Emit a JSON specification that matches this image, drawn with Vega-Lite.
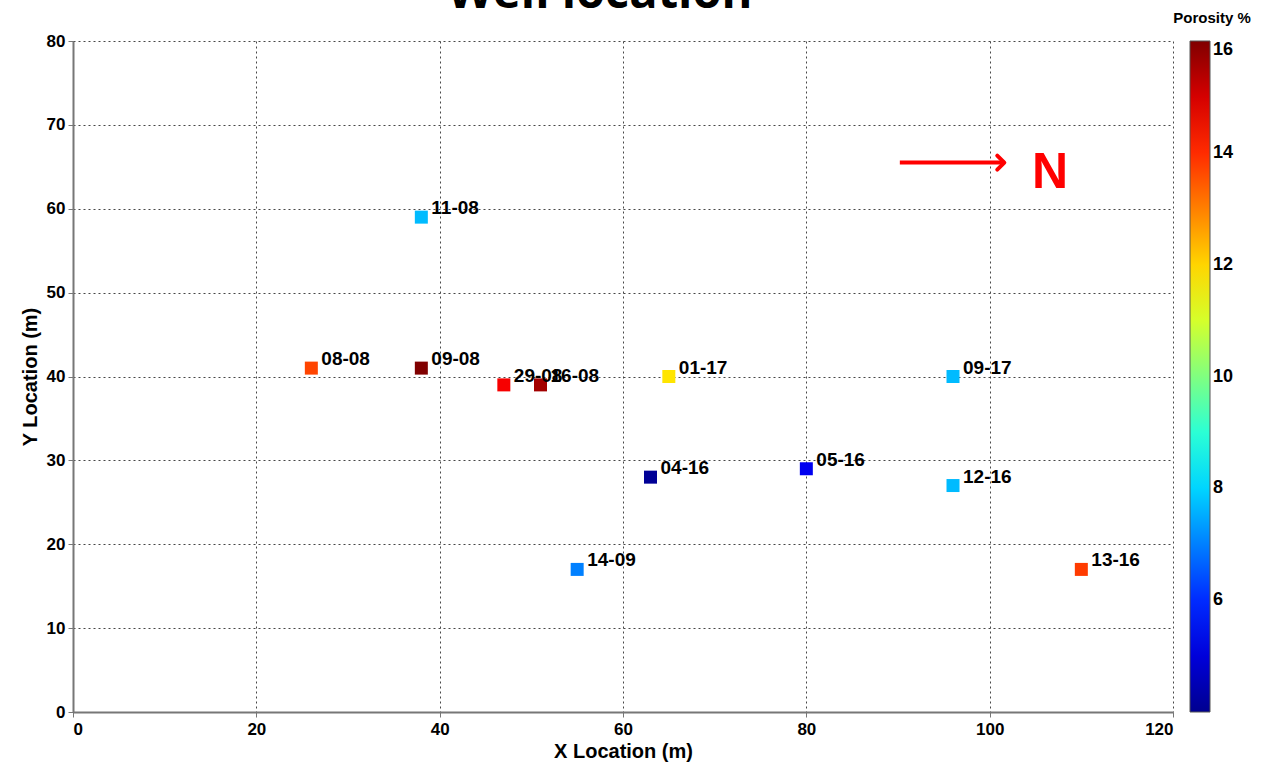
{
  "$schema": "https://vega.github.io/schema/vega-lite/v6.json",
  "autosize": {"type": "none"},
  "width": 1100,
  "height": 671,
  "padding": {"left": 73, "top": 41, "right": 100, "bottom": 52},
  "background": "white",
  "title": {"text": "Well location", "fontSize": 47, "font": "Open Sans", "fontWeight": "bold", "color": "black", "anchor": "middle", "frame": "group", "baseline": "alphabetic", "offset": -44, "dx": -23},
  "config": {
    "font": "Liberation Sans",
    "view": {"stroke": null},
    "axis": {
      "labelFont": "Liberation Sans", "labelFontWeight": "bold", "labelFontSize": 17, "labelColor": "black",
      "titleFont": "Liberation Sans", "titleFontWeight": "bold", "titleFontSize": 20, "titleColor": "black",
      "grid": true, "gridColor": "#333", "gridDash": [2, 3], "gridOpacity": 0.9, "gridWidth": 1,
      "domainColor": "#777", "domainWidth": 2, "tickColor": "#777", "tickSize": 5
    }
  },
  "datasets": {
    "wells": [
      {"well": "08-08", "x": 26, "y": 41, "porosity": 13.7},
      {"well": "09-08", "x": 38, "y": 41, "porosity": 16},
      {"well": "29-08", "x": 47, "y": 39, "porosity": 14.6},
      {"well": "16-08", "x": 51, "y": 39, "porosity": 15.6},
      {"well": "11-08", "x": 38, "y": 59, "porosity": 7.7},
      {"well": "01-17", "x": 65, "y": 40, "porosity": 11.8},
      {"well": "09-17", "x": 96, "y": 40, "porosity": 7.7},
      {"well": "04-16", "x": 63, "y": 28, "porosity": 4.1},
      {"well": "05-16", "x": 80, "y": 29, "porosity": 5.3},
      {"well": "12-16", "x": 96, "y": 27, "porosity": 7.7},
      {"well": "14-09", "x": 55, "y": 17, "porosity": 7.0},
      {"well": "13-16", "x": 110, "y": 17, "porosity": 13.8}
    ],
    "arrow": [{"x": 90.2, "x2": 101.6, "y": 65.5, "label": "N", "lx": 106.6}]
  },
  "layer": [
    {
      "data": {"name": "wells"},
      "mark": {"type": "square", "size": 169, "opacity": 1, "filled": true},
      "encoding": {
        "x": {"field": "x", "type": "quantitative", "scale": {"domain": [0, 120], "nice": false}, "axis": {"values": [0, 20, 40, 60, 80, 100, 120], "title": "X Location (m)", "titlePadding": 4, "labelPadding": 4}},
        "y": {"field": "y", "type": "quantitative", "scale": {"domain": [0, 80], "nice": false}, "axis": {"values": [0, 10, 20, 30, 40, 50, 60, 70, 80], "title": "Y Location (m)", "titlePadding": 6, "labelPadding": 3}},
        "color": {
          "field": "porosity", "type": "quantitative",
          "scale": {"domain": [4, 5.5, 8.5, 11.5, 14.5, 16], "range": ["#00008f", "#0000ff", "#00ffff", "#ffff00", "#ff0000", "#800000"], "interpolate": "rgb"},
          "legend": {
            "title": "Porosity %", "orient": "none", "legendX": 1100, "legendY": -30,
            "gradientLength": 671, "gradientThickness": 20, "gradientStrokeColor": "#555", "gradientStrokeWidth": 1,
            "values": [6, 8, 10, 12, 14, 16], "labelFontSize": 18, "labelFontWeight": "bold", "labelColor": "black", "labelFont": "Liberation Sans",
            "titleFontSize": 15, "titleFontWeight": "bold", "titleColor": "black", "titleFont": "Liberation Sans", "titlePadding": 15, "titleAnchor": "middle", "titleAlign": "center", "labelOffset": 3, "direction": "vertical"
          }
        }
      }
    },
    {
      "data": {"name": "wells"},
      "mark": {"type": "text", "align": "left", "baseline": "middle", "dx": 10, "dy": -9, "fontSize": 19, "fontWeight": "bold", "font": "Liberation Sans", "color": "black"},
      "encoding": {
        "x": {"field": "x", "type": "quantitative"},
        "y": {"field": "y", "type": "quantitative"},
        "text": {"field": "well"}
      }
    },
    {
      "data": {"name": "arrow"},
      "mark": {"type": "rule", "color": "#ff0000", "strokeWidth": 4},
      "encoding": {
        "x": {"field": "x", "type": "quantitative"},
        "x2": {"field": "x2"},
        "y": {"field": "y", "type": "quantitative"}
      }
    },
    {
      "data": {"name": "arrow"},
      "mark": {"type": "point", "shape": "M -1 -1 L 0 0 L -1 1", "size": 200, "filled": false, "stroke": "#ff0000", "strokeWidth": 4, "strokeCap": "round", "strokeJoin": "round", "opacity": 1},
      "encoding": {
        "x": {"field": "x2", "type": "quantitative"},
        "y": {"field": "y", "type": "quantitative"}
      }
    },
    {
      "data": {"name": "arrow"},
      "mark": {"type": "text", "align": "center", "baseline": "middle", "fontSize": 50, "fontWeight": "bold", "font": "Liberation Sans", "color": "#ff0000", "dy": 10},
      "encoding": {
        "x": {"field": "lx", "type": "quantitative"},
        "y": {"field": "y", "type": "quantitative"},
        "text": {"field": "label"}
      }
    }
  ]
}
